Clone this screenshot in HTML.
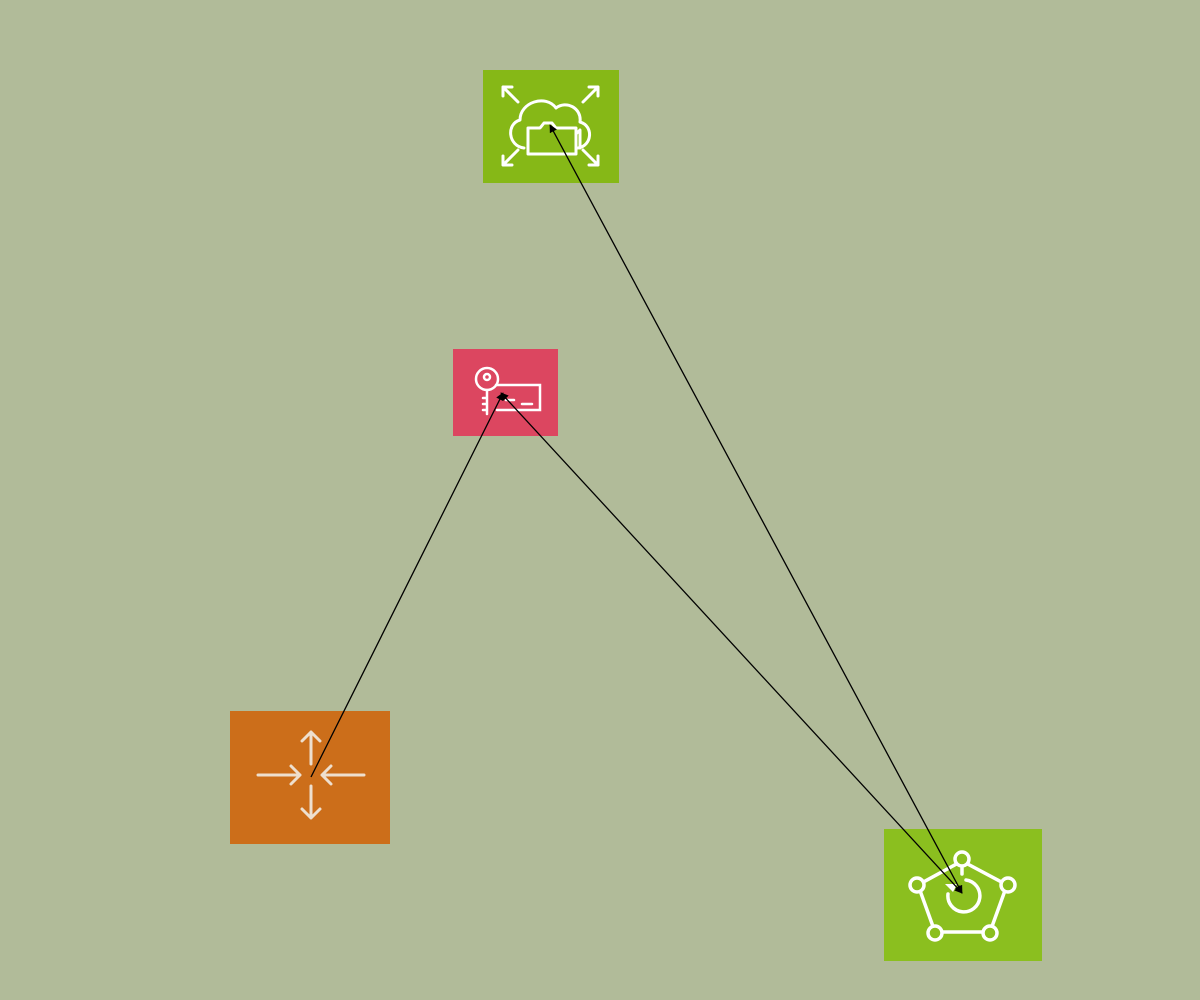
<!DOCTYPE html>
<html><head><meta charset="utf-8"><style>
html,body{margin:0;padding:0;background:#b1bb99;width:1200px;height:1000px;overflow:hidden}
</style></head><body>
<svg width="1200" height="1000" viewBox="0 0 1200 1000" xmlns="http://www.w3.org/2000/svg">
<defs>
<marker id="a" viewBox="0 0 10 10" refX="9" refY="5" markerWidth="8" markerHeight="8" orient="auto-start-reverse" markerUnits="userSpaceOnUse">
<path d="M0,0 L10,5 L0,10 z" fill="#000"/></marker>
</defs>
<rect width="1200" height="1000" fill="#b1bb99"/>
<!-- cloud box -->
<rect x="483" y="70" width="136" height="113" fill="#86b817"/>
<g fill="none" stroke="#fff" stroke-width="3" stroke-linecap="round" stroke-linejoin="round">
<path d="M503,87 L518,102 M503,87 h9 M503,87 v9"/>
<path d="M598,87 L583,102 M598,87 h-9 M598,87 v9"/>
<path d="M503,165 L518,150 M503,165 h9 M503,165 v-9"/>
<path d="M598,165 L583,150 M598,165 h-9 M598,165 v-9"/>
<path d="M524,148 C508,146 506,124 520,120 C520,102 546,94 556,108 C566,100 582,108 580,122 C594,126 592,146 578,148"/>
<path d="M528,154 V128 h12 l4,-5 h8 l4,5 h20 v26 z"/>
<path d="M576,134 l4,-4 v18"/>
</g>
<!-- key box -->
<rect x="453" y="349" width="105" height="87" fill="#dc4660"/>
<g fill="none" stroke="#fff" stroke-width="2.5" stroke-linecap="round">
<circle cx="487" cy="379" r="11"/><circle cx="487" cy="377" r="3"/>
<path d="M487,390 V414 M487,398 h-4 M487,404 h-4 M487,410 h-4"/>
<path d="M496,385 H540 V410 H497"/>
<path d="M506,400 h8 M522,404 h10"/>
</g>
<!-- orange box -->
<rect x="230" y="711" width="160" height="133" fill="#cc6e1a"/>
<g fill="none" stroke="#eedfce" stroke-width="3" stroke-linecap="round" stroke-linejoin="round">
<path d="M258,775 H300 M291,766 L300,775 L291,784"/>
<path d="M364,775 H322 M331,766 L322,775 L331,784"/>
<path d="M311,764 V732 M302,741 L311,732 L320,741"/>
<path d="M311,786 V818 M302,809 L311,818 L320,809"/>
</g>
<!-- pentagon box -->
<rect x="884" y="829" width="158" height="132" fill="#8bbf1f"/>
<g fill="none" stroke="#fff" stroke-width="3.5" stroke-linecap="round">
<path d="M962,861 L1007,885 L990,932 L935,932 L918,885 Z"/>
<circle cx="962" cy="859" r="7" fill="#8bbf1f"/>
<circle cx="1008" cy="885" r="7" fill="#8bbf1f"/>
<circle cx="990" cy="933" r="7" fill="#8bbf1f"/>
<circle cx="935" cy="933" r="7" fill="#8bbf1f"/>
<circle cx="917" cy="885" r="7" fill="#8bbf1f"/>
<path d="M966,880 A16,16 0 1 1 948,894"/>
<path d="M962,868 v6"/>
</g>
<path d="M945,884 l12,0 l-4,8 z" fill="#fff"/>
<!-- connectors -->
<g stroke="#000" stroke-width="1.3" fill="none">
<line x1="311" y1="777" x2="503" y2="393" marker-end="url(#a)"/>
<line x1="962" y1="893" x2="501" y2="393" marker-end="url(#a)" marker-start="url(#a)"/>
<line x1="962" y1="893" x2="550" y2="125" marker-end="url(#a)" marker-start="url(#a)"/>
</g>
</svg>
</body></html>
